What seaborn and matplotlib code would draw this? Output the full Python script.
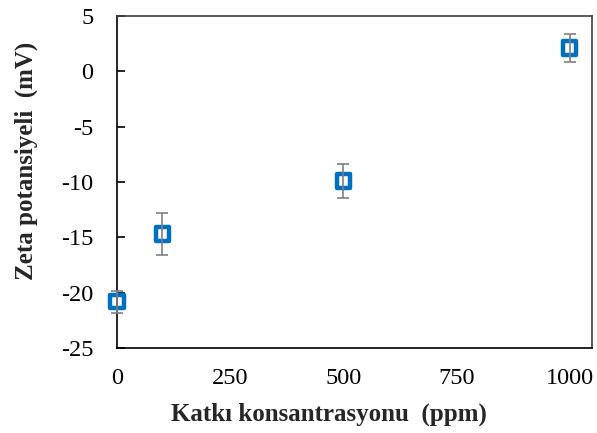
import matplotlib
matplotlib.use("Agg")
import matplotlib.pyplot as plt
import seaborn as sns
import pandas as pd

concentration = [0, 100, 500, 1000]
zeta = [-20.8, -14.7, -9.9, 2.1]
zeta_err = [1.0, 1.9, 1.55, 1.25]
x_ticks = [0, 250, 500, 750, 1000]
y_ticks = [5, 0, -5, -10, -15, -20, -25]

sns.set_theme(style="white")
plt.rcParams['font.family'] = ['Liberation Serif', 'DejaVu Serif']

df = pd.DataFrame({"conc": concentration, "zeta": zeta, "err": zeta_err})

fig = plt.figure(figsize=(5.97, 4.33), dpi=100)
ax = fig.add_axes([0.196, 0.196, 0.796, 0.767])

sns.scatterplot(data=df, x="conc", y="zeta", marker="s", s=95,
                facecolor="none", edgecolor="#0070C0", linewidth=3.2,
                ax=ax, zorder=3, legend=False, clip_on=False)
eb = ax.errorbar(df["conc"], df["zeta"], yerr=df["err"], fmt="none",
                 ecolor="#808080", elinewidth=1.2, capsize=4.5, capthick=1.2,
                 zorder=4)
for art in eb.lines[1] + eb.lines[2]:
    art.set_clip_on(False)

ax.set_xlim(0, 1050)
ax.set_ylim(-25, 5)
ax.set_xticks(x_ticks)
ax.set_yticks(y_ticks)
ax.set_xticklabels([str(v) for v in x_ticks])
ax.set_yticklabels([str(v) for v in y_ticks])
ax.tick_params(axis="x", length=0, labelsize=17.5, pad=14, colors="black")
ax.tick_params(axis="y", direction="in", length=6, width=1.2, labelsize=17.5,
               pad=17, colors="black", left=True)

for sp in ax.spines.values():
    sp.set_color("#404040")
    sp.set_linewidth(1.2)
ax.spines["left"].set_color("black")
ax.spines["bottom"].set_color("black")

ax.set_xlabel("Katkı konsantrasyonu  (ppm)", fontsize=18, fontweight="bold")
ax.set_ylabel("Zeta potansiyeli  (mV)", fontsize=18, fontweight="bold")
ax.xaxis.set_label_coords(0.446, -0.163)
ax.yaxis.set_label_coords(-0.166, 0.563)
ax.grid(False)

fig.savefig("out.png", dpi=100)
